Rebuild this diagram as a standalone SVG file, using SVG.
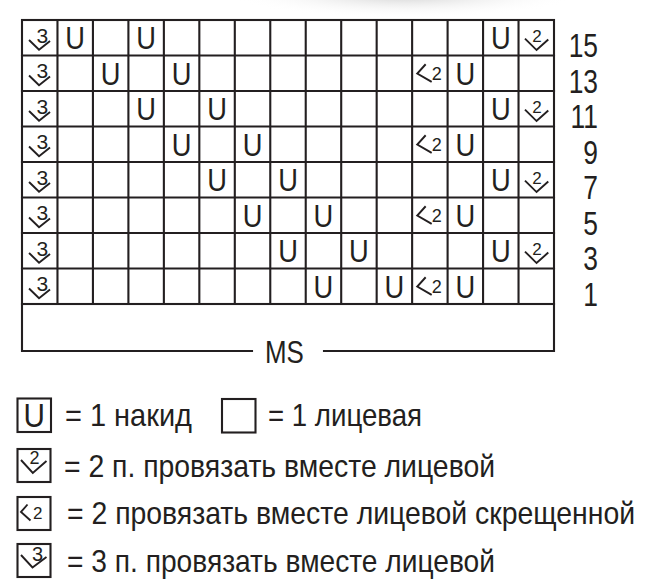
<svg xmlns="http://www.w3.org/2000/svg" xmlns:xlink="http://www.w3.org/1999/xlink" width="662" height="585" viewBox="0 0 662 585">
<style>
.ln{stroke:#231f20;stroke-width:2.1;fill:none;stroke-linecap:square}
.sym{stroke:#231f20;stroke-width:1.9;fill:none;stroke-linejoin:miter;stroke-linecap:butt}
.t{font-family:"Liberation Sans",Arial,sans-serif;fill:#231f20}
.u{font-size:31px;text-anchor:middle}
.d{text-anchor:middle}
.lbl{font-size:33px;text-anchor:end}
.leg{font-size:32px}
</style>
<defs>
<radialGradient id="shade" cx="0.5" cy="0.5" r="0.5">
<stop offset="0" stop-color="#c4c4c4" stop-opacity="0.85"/>
<stop offset="1" stop-color="#ffffff" stop-opacity="0"/>
</radialGradient>
<g id="yo"><text class="t u" transform="scale(0.88,1)" x="0" y="11.5">U</text></g>
<g id="k3"><text class="t d" x="2.5" y="4.8" font-size="21">3</text><polyline class="sym" points="-10.7,2.2 -0.7,11.9 10.3,3.2"/></g>
<g id="k2"><text class="t d" x="0.6" y="4" font-size="17">2</text><polyline class="sym" points="-11.3,0.8 0.3,12.3 12,1.8"/></g>
<g id="kl2"><text class="t d" x="7" y="6.5" font-size="18">2</text><polyline class="sym" points="-4.2,-9 -12.6,0.3 1.8,8.6"/></g>
</defs>

<ellipse cx="405" cy="-6" rx="175" ry="24" fill="url(#shade)"/>

<g id="chart-grid">
<rect class="ln" x="22" y="20" width="532" height="284"/>
<path class="ln" d="M57.47,20V304M92.93,20V304M128.4,20V304M163.87,20V304M199.33,20V304M234.8,20V304M270.27,20V304M305.73,20V304M341.2,20V304M376.67,20V304M412.13,20V304M447.6,20V304M483.07,20V304M518.53,20V304"/>
<path class="ln" d="M22,55.5H554M22,91H554M22,126.5H554M22,162H554M22,197.5H554M22,233H554M22,268.5H554"/>
<path class="ln" d="M22,304V351H252M324,351H554V304"/>
<text class="t" transform="translate(265,363) scale(0.81,1)" font-size="32">MS</text>
</g>

<g id="cells">
<!-- row 15 -->
<use xlink:href="#k3" x="39.73" y="37.75"/>
<use xlink:href="#yo" x="75.2" y="37.75"/>
<use xlink:href="#yo" x="146.13" y="37.75"/>
<use xlink:href="#yo" x="500.8" y="37.75"/>
<use xlink:href="#k2" x="536.27" y="37.75"/>
<!-- row 13 -->
<use xlink:href="#k3" x="39.73" y="73.25"/>
<use xlink:href="#yo" x="110.67" y="73.25"/>
<use xlink:href="#yo" x="181.6" y="73.25"/>
<use xlink:href="#kl2" x="429.87" y="73.25"/>
<use xlink:href="#yo" x="465.33" y="73.25"/>
<!-- row 11 -->
<use xlink:href="#k3" x="39.73" y="108.75"/>
<use xlink:href="#yo" x="146.13" y="108.75"/>
<use xlink:href="#yo" x="217.07" y="108.75"/>
<use xlink:href="#yo" x="500.8" y="108.75"/>
<use xlink:href="#k2" x="536.27" y="108.75"/>
<!-- row 9 -->
<use xlink:href="#k3" x="39.73" y="144.25"/>
<use xlink:href="#yo" x="181.6" y="144.25"/>
<use xlink:href="#yo" x="252.53" y="144.25"/>
<use xlink:href="#kl2" x="429.87" y="144.25"/>
<use xlink:href="#yo" x="465.33" y="144.25"/>
<!-- row 7 -->
<use xlink:href="#k3" x="39.73" y="179.75"/>
<use xlink:href="#yo" x="217.07" y="179.75"/>
<use xlink:href="#yo" x="288" y="179.75"/>
<use xlink:href="#yo" x="500.8" y="179.75"/>
<use xlink:href="#k2" x="536.27" y="179.75"/>
<!-- row 5 -->
<use xlink:href="#k3" x="39.73" y="215.25"/>
<use xlink:href="#yo" x="252.53" y="215.25"/>
<use xlink:href="#yo" x="323.47" y="215.25"/>
<use xlink:href="#kl2" x="429.87" y="215.25"/>
<use xlink:href="#yo" x="465.33" y="215.25"/>
<!-- row 3 -->
<use xlink:href="#k3" x="39.73" y="250.75"/>
<use xlink:href="#yo" x="288" y="250.75"/>
<use xlink:href="#yo" x="358.93" y="250.75"/>
<use xlink:href="#yo" x="500.8" y="250.75"/>
<use xlink:href="#k2" x="536.27" y="250.75"/>
<!-- row 1 -->
<use xlink:href="#k3" x="39.73" y="286.25"/>
<use xlink:href="#yo" x="323.47" y="286.25"/>
<use xlink:href="#yo" x="394.4" y="286.25"/>
<use xlink:href="#kl2" x="429.87" y="286.25"/>
<use xlink:href="#yo" x="465.33" y="286.25"/>
</g>

<g id="row-numbers">
<text class="t lbl" transform="translate(598,57) scale(0.8,1)">15</text>
<text class="t lbl" transform="translate(598,92.5) scale(0.8,1)">13</text>
<text class="t lbl" transform="translate(598,128) scale(0.8,1)">11</text>
<text class="t lbl" transform="translate(598,163.5) scale(0.8,1)">9</text>
<text class="t lbl" transform="translate(598,199) scale(0.8,1)">7</text>
<text class="t lbl" transform="translate(598,234.5) scale(0.8,1)">5</text>
<text class="t lbl" transform="translate(598,270) scale(0.8,1)">3</text>
<text class="t lbl" transform="translate(598,305.5) scale(0.8,1)">1</text>
</g>

<g id="legend-yo">
<rect class="ln" x="17.5" y="398.5" width="33.5" height="33.5"/>
<text class="t d" transform="translate(34.2,427) scale(0.9,1)" font-size="33">U</text>
<text class="t leg" transform="translate(65,426) scale(0.88,1)" textLength="144.3" lengthAdjust="spacingAndGlyphs">= 1 накид</text>
</g>
<g id="legend-knit">
<rect class="ln" x="222" y="399" width="33.5" height="33.5"/>
<text class="t leg" transform="translate(268,426) scale(0.88,1)" textLength="175" lengthAdjust="spacingAndGlyphs">= 1 лицевая</text>
</g>
<g id="legend-k2">
<rect class="ln" x="17.5" y="449" width="33" height="33"/>
<text class="t d" x="34.5" y="464" font-size="18">2</text>
<polyline class="sym" points="21,460 32.8,473 46.5,461"/>
<text class="t leg" transform="translate(64,476.5) scale(0.88,1)" textLength="489.8" lengthAdjust="spacingAndGlyphs">= 2 п. провязать вместе лицевой</text>
</g>
<g id="legend-kl2">
<rect class="ln" x="17.5" y="497" width="33" height="33"/>
<polyline class="sym" points="27.5,504.5 21,512 30.5,520.5"/>
<text class="t d" x="37.8" y="519" font-size="17">2</text>
<text class="t leg" transform="translate(67,524) scale(0.88,1)" textLength="645.5" lengthAdjust="spacingAndGlyphs">= 2 провязать вместе лицевой скрещенной</text>
</g>
<g id="legend-k3">
<rect class="ln" x="17.5" y="544" width="33" height="33"/>
<text class="t d" x="37.5" y="560.5" font-size="20">3</text>
<polyline class="sym" points="21,555 32.5,567.5 46.5,557"/>
<text class="t leg" transform="translate(67,571.5) scale(0.88,1)" textLength="486.4" lengthAdjust="spacingAndGlyphs">= 3 п. провязать вместе лицевой</text>
</g>
</svg>
